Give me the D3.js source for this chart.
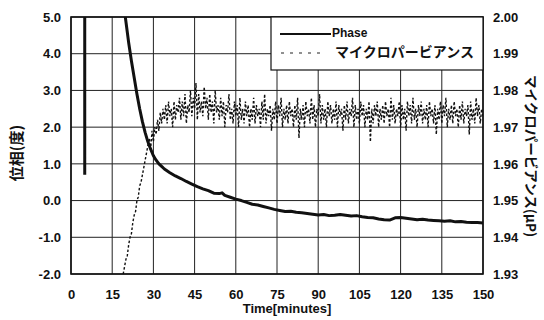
<!DOCTYPE html>
<html>
<head>
<meta charset="utf-8">
<script src="https://cdn.jsdelivr.net/npm/d3@7"></script>
<style>
  html, body { margin: 0; padding: 0; background: #fff; }
  svg { display: block; }
  text { font-family: "Liberation Sans", Arial, "Noto Sans CJK JP", sans-serif; font-weight: bold; fill: #111; }
</style>
</head>
<body>
<svg id="chart" width="544" height="320"></svg>
<script>
// ── Data ────────────────────────────────────────────────────────────────────
const xTicks = [0, 15, 30, 45, 60, 75, 90, 105, 120, 135, 150];
const phaseTicks = [-2, -1, 0, 1, 2, 3, 4, 5];
const microTicks = [1.93, 1.94, 1.95, 1.96, 1.97, 1.98, 1.99, 2.00];

// Phase (deg). null = break; 8 is off-scale above the top of the plot
const phaseTime = [5, 5, null,
  19.6, 21, 22, 23, 24, 25, 26, 27, 28, 29, 30, 31, 32, 33, 34, 36, 38, 40,
  42, 44, 46, 48, 50, 52, 54, 55, 56, 58, 60, 62, 64, 66, 68, 70, 72, 74, 76,
  78, 80, 82, 84, 86, 88, 90, 92, 94, 96, 98, 100, 102, 104, 106, 108, 110,
  112, 114, 116, 118, 120, 122, 124, 126, 128, 130, 132, 134, 136, 138, 140,
  142, 144, 146, 148, 150];
const phaseValue = [0.7, 8, null,
  5.1, 4.3, 3.8, 3.35, 2.9, 2.5, 2.15, 1.85, 1.6, 1.4, 1.22, 1.1, 1.0, 0.93,
  0.86, 0.76, 0.67, 0.6, 0.52, 0.45, 0.38, 0.32, 0.27, 0.2, 0.19, 0.21, 0.14,
  0.09, 0.04, 0.0, -0.05, -0.1, -0.12, -0.16, -0.2, -0.24, -0.27, -0.3, -0.29,
  -0.32, -0.33, -0.35, -0.37, -0.39, -0.38, -0.41, -0.4, -0.38, -0.4, -0.42,
  -0.41, -0.44, -0.46, -0.47, -0.5, -0.52, -0.53, -0.47, -0.46, -0.48, -0.5,
  -0.52, -0.51, -0.53, -0.54, -0.55, -0.56, -0.55, -0.58, -0.57, -0.59, -0.6,
  -0.6, -0.61];

// Micropervience (µP), one reading every half minute from t = 19
const microStart = 19, microStep = 0.5;
const microValue = [
  1.930, 1.932, 1.934, 1.935, 1.938, 1.940, 1.941, 1.944, 1.946, 1.947,
  1.950, 1.951, 1.954, 1.955, 1.957, 1.959, 1.961, 1.963, 1.965, 1.967,
  1.964, 1.969, 1.966, 1.970, 1.968, 1.972, 1.969, 1.974, 1.971, 1.975,
  1.972, 1.976, 1.971, 1.977, 1.973, 1.975, 1.970, 1.977, 1.972, 1.976,
  1.974, 1.978, 1.972, 1.977, 1.973, 1.979, 1.971, 1.976, 1.974, 1.980,
  1.973, 1.978, 1.975, 1.982, 1.972, 1.979, 1.974, 1.977, 1.973, 1.981,
  1.975, 1.978, 1.972, 1.979, 1.974, 1.977, 1.971, 1.980, 1.974, 1.976,
  1.972, 1.978, 1.973, 1.977, 1.970, 1.976, 1.974, 1.979, 1.972, 1.975,
  1.971, 1.977, 1.973, 1.976, 1.970, 1.978, 1.972, 1.975, 1.971, 1.977,
  1.973, 1.976, 1.970, 1.975, 1.972, 1.978, 1.971, 1.976, 1.973, 1.975,
  1.970, 1.977, 1.972, 1.979, 1.971, 1.975, 1.973, 1.976, 1.969, 1.975,
  1.972, 1.977, 1.971, 1.976, 1.973, 1.978, 1.970, 1.975, 1.972, 1.976,
  1.971, 1.977, 1.973, 1.975, 1.970, 1.976, 1.972, 1.978, 1.967, 1.975,
  1.972, 1.976, 1.970, 1.977, 1.973, 1.975, 1.971, 1.978, 1.972, 1.976,
  1.970, 1.975, 1.973, 1.979, 1.971, 1.976, 1.972, 1.975, 1.970, 1.977,
  1.973, 1.976, 1.971, 1.975, 1.972, 1.977, 1.970, 1.976, 1.973, 1.975,
  1.969, 1.976, 1.972, 1.977, 1.971, 1.975, 1.973, 1.978, 1.970, 1.976,
  1.972, 1.975, 1.971, 1.977, 1.973, 1.976, 1.970, 1.975, 1.972, 1.977,
  1.966, 1.975, 1.971, 1.976, 1.973, 1.977, 1.970, 1.975, 1.972, 1.976,
  1.971, 1.977, 1.973, 1.975, 1.970, 1.978, 1.972, 1.976, 1.971, 1.975,
  1.973, 1.977, 1.970, 1.976, 1.972, 1.975, 1.969, 1.977, 1.973, 1.976,
  1.971, 1.978, 1.972, 1.975, 1.970, 1.976, 1.973, 1.977, 1.971, 1.975,
  1.972, 1.976, 1.970, 1.977, 1.973, 1.975, 1.971, 1.976, 1.968, 1.975,
  1.972, 1.977, 1.971, 1.976, 1.973, 1.978, 1.970, 1.975, 1.972, 1.976,
  1.971, 1.977, 1.973, 1.975, 1.970, 1.976, 1.972, 1.977, 1.971, 1.975,
  1.973, 1.976, 1.968, 1.977, 1.972, 1.975, 1.971, 1.978, 1.973, 1.976,
  1.971, 1.975, 1.973];

const seriesNames = ['Phase', 'マイクロパービアンス'];

// ── Layout ──────────────────────────────────────────────────────────────────
const L = 71, R = 483, T = 17, B = 274;
const svg = d3.select('#chart');

const x  = d3.scaleLinear().domain([0, 150]).range([L, R]);
const y  = d3.scaleLinear().domain([-2, 5]).range([B, T]);
const y2 = d3.scaleLinear().domain([1.93, 2.00]).range([B, T]);

svg.append('defs').append('clipPath').attr('id', 'plot-clip')
  .append('rect').attr('x', L).attr('y', T).attr('width', R - L).attr('height', B - T);

// ── Grid ────────────────────────────────────────────────────────────────────
const gridG = svg.append('g').attr('stroke', '#222').attr('stroke-width', 1);
xTicks.forEach(t => {
  gridG.append('line').attr('x1', x(t)).attr('x2', x(t)).attr('y1', T).attr('y2', B);
});
phaseTicks.forEach(t => {
  gridG.append('line').attr('x1', L).attr('x2', R).attr('y1', y(t)).attr('y2', y(t));
});

// ── Series ──────────────────────────────────────────────────────────────────
const plotG = svg.append('g').attr('clip-path', 'url(#plot-clip)');

const microPts = microValue.map((v, i) => [microStart + i * microStep, v]);
plotG.append('path')
  .datum(microPts)
  .attr('fill', 'none')
  .attr('stroke', '#111')
  .attr('stroke-width', 1.4)
  .attr('stroke-dasharray', '2.5,2')
  .attr('d', d3.line().x(d => x(d[0])).y(d => y2(d[1])));

const phasePts = phaseTime.map((t, i) => [t, phaseValue[i]]);
plotG.append('path')
  .datum(phasePts)
  .attr('fill', 'none')
  .attr('stroke', '#111')
  .attr('stroke-width', 3)
  .attr('stroke-linejoin', 'round')
  .attr('d', d3.line()
    .defined(d => d[0] != null && d[1] != null)
    .x(d => x(d[0])).y(d => y(d[1])));

// ── Axes ────────────────────────────────────────────────────────────────────
svg.append('g')
  .attr('transform', `translate(${L},0)`)
  .call(d3.axisLeft(y).tickValues(phaseTicks).tickSize(0).tickPadding(10)
    .tickFormat(d => d.toFixed(1)))
  .call(g => g.select('.domain').remove())
  .call(g => g.selectAll('text').attr('font-size', 13).attr('font-family', null));

svg.append('g')
  .attr('transform', `translate(${R},0)`)
  .call(d3.axisRight(y2).tickValues(microTicks).tickSize(0).tickPadding(10)
    .tickFormat(d => d.toFixed(2)))
  .call(g => g.select('.domain').remove())
  .call(g => g.selectAll('text').attr('font-size', 13).attr('font-family', null));

svg.append('g')
  .attr('transform', `translate(0,${B})`)
  .call(d3.axisBottom(x).tickValues(xTicks).tickSize(0).tickPadding(16))
  .call(g => g.select('.domain').remove())
  .call(g => g.selectAll('text').attr('font-size', 13).attr('font-family', null));

// Frame
svg.append('rect')
  .attr('x', L).attr('y', T).attr('width', R - L).attr('height', B - T)
  .attr('fill', 'none').attr('stroke', '#111').attr('stroke-width', 1.6);

// ── Titles ──────────────────────────────────────────────────────────────────
svg.append('text')
  .attr('x', 287).attr('y', 313)
  .attr('text-anchor', 'middle')
  .attr('font-size', 13)
  .text('Time[minutes]');

svg.append('text')
  .attr('transform', 'translate(22,153) rotate(-90)')
  .attr('text-anchor', 'middle')
  .attr('font-size', 15)
  .style('font-family', '"Noto Sans CJK JP", sans-serif')
  .text('位相(度)');

svg.append('text')
  .attr('transform', 'translate(526,156) rotate(90)')
  .attr('text-anchor', 'middle')
  .attr('font-size', 13.5)
  .style('font-family', '"Noto Sans CJK JP", sans-serif')
  .text('マイクロパービアンス(μP)');

// ── Legend ──────────────────────────────────────────────────────────────────
const legG = svg.append('g');
legG.append('rect')
  .attr('x', 271).attr('y', T).attr('width', R - 271).attr('height', 53)
  .attr('fill', '#fff').attr('stroke', '#111').attr('stroke-width', 1.2);

legG.append('line')
  .attr('x1', 280).attr('x2', 331).attr('y1', 34).attr('y2', 34)
  .attr('stroke', '#111').attr('stroke-width', 2);
legG.append('text')
  .attr('x', 332).attr('y', 34)
  .attr('dominant-baseline', 'middle')
  .attr('font-size', 12)
  .text(seriesNames[0]);

legG.append('line')
  .attr('x1', 281).attr('x2', 324).attr('y1', 53).attr('y2', 53)
  .attr('stroke', '#222').attr('stroke-width', 1.2)
  .attr('stroke-dasharray', '3,6');
legG.append('text')
  .attr('x', 335).attr('y', 53)
  .attr('dominant-baseline', 'middle')
  .attr('font-size', 14)
  .style('font-family', '"Noto Sans CJK JP", sans-serif')
  .text(seriesNames[1]);
</script>
</body>
</html>
